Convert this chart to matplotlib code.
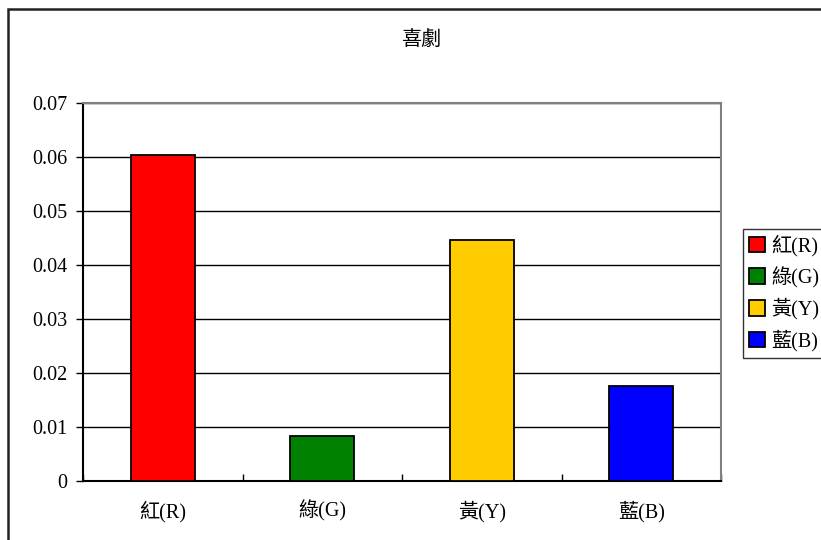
import numpy as np
import matplotlib.pyplot as plt
from matplotlib.patches import Rectangle

plt.rcParams['font.family'] = ['Liberation Serif', 'Noto Sans CJK TC']

categories = ["紅(R)", "綠(G)", "黃(Y)", "藍(B)"]
values = [0.0604, 0.0083, 0.0446, 0.0176]
colors = ["#ff0000", "#008000", "#ffcc00", "#0000ff"]
yticks = [0, 0.01, 0.02, 0.03, 0.04, 0.05, 0.06, 0.07]
ytick_labels = ["0", "0.01", "0.02", "0.03", "0.04", "0.05", "0.06", "0.07"]

fig = plt.figure(figsize=(8.21, 5.4), dpi=100)

# outer chart frame
fig.patches.append(Rectangle((8 / 821, -0.01), 1.0, 1 - 9 / 540 + 0.01,
                             transform=fig.transFigure, fill=False,
                             edgecolor="#222222", linewidth=1.8))

ax = fig.add_axes([83 / 821, 59 / 540, 638 / 821, 378 / 540])
x = np.arange(len(categories))
bars = ax.bar(x, values, width=0.4, color=colors, edgecolor="black",
              linewidth=1.3, zorder=3)

ax.set_xlim(-0.5, len(categories) - 0.5)
ax.set_ylim(0, 0.07)
ax.set_yticks(yticks)
ax.set_yticklabels(ytick_labels, fontsize=14.5)
ax.yaxis.grid(True, color="black", linewidth=1.0, zorder=0)

ax.set_xticks(x)
ax.set_xticklabels(categories, fontsize=14.5)
ax.tick_params(axis="x", length=0, pad=14)
ax.set_xticks(np.arange(-0.5, len(categories) + 0.5), minor=True)
ax.tick_params(axis="x", which="minor", length=5, direction="in", width=1)
ax.tick_params(axis="y", length=5, direction="out", width=1, pad=6)

for side in ["top", "right"]:
    ax.spines[side].set_color("#808080")
    ax.spines[side].set_linewidth(1.5)
for side in ["left", "bottom"]:
    ax.spines[side].set_color("black")
    ax.spines[side].set_linewidth(1.5)

fig.text(421 / 821, 1 - 40 / 540, "喜劇", ha="center", va="center", fontsize=14.5)

leg = fig.legend(bars, categories, loc="upper left",
                 bbox_to_anchor=(743 / 821, 1 - 229 / 540),
                 fontsize=14.5, frameon=True, fancybox=False,
                 handlelength=0.8, handleheight=0.8, handletextpad=0.3,
                 labelspacing=0.5, borderpad=0.3, borderaxespad=0)
leg.get_frame().set_edgecolor("black")
leg.get_frame().set_linewidth(1.0)

fig.savefig("out.png", dpi=100)
